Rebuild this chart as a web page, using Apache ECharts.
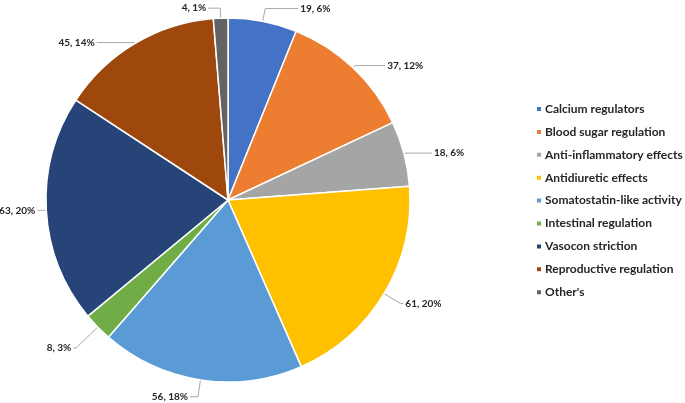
<!DOCTYPE html>
<html><head><meta charset="utf-8">
<script src="https://cdn.jsdelivr.net/npm/echarts@6/dist/echarts.min.js"></script>
<style>html,body{margin:0;padding:0;background:#fff}#c{width:685px;height:403px}</style>
</head><body><div id="c"></div>
<script>
const categories = ["Calcium regulators","Blood sugar regulation","Anti-inflammatory effects","Antidiuretic effects","Somatostatin-like activity","Intestinal regulation","Vasocon striction","Reproductive regulation","Other's"];
const values = [19, 37, 18, 61, 56, 8, 63, 45, 4];
const percentLabels = ["6%","12%","6%","20%","18%","3%","20%","14%","1%"];
const colors = ["#4472C4","#ED7D31","#A5A5A5","#FFC000","#5B9BD5","#70AD47","#264478","#9E480E","#636363"];
const lineLen1 = [13, 3, 2, 19, 17, 30, 4, 1, 10];
const lineLen2 = [33, 30, 26, 3, 8, 3, 5, 38, 12];

const chart = echarts.init(document.getElementById('c'));
chart.setOption({
  animation: false,
  color: colors,
  legend: {
    orient: 'vertical', left: 530, top: 97,
    icon: 'rect', itemWidth: 6, itemHeight: 6, itemGap: 8.9,
    textStyle: {fontFamily: 'Lato', fontWeight: 'bold', fontSize: 12, color: '#262626', lineHeight: 14, padding:[0,0,0,-2]},
    data: categories
  },
  series: [{
    type: 'pie',
    center: [228, 200], radius: 182,
    startAngle: 90, clockwise: true,
    avoidLabelOverlap: false,
    itemStyle: {borderColor: '#fff', borderWidth: 1.5},
    label: {
      show: true, position: 'outside',
      fontFamily: 'Lato', fontWeight: 'bold', fontSize: 10, color: '#262626',
      formatter: p => values[p.dataIndex] + ', ' + percentLabels[p.dataIndex],
      distanceToLabelLine: 2
    },
    labelLine: {show: true, lineStyle: {color: '#A6A6A6', width: 1}, smooth: false},
    emphasis: {disabled: true},
    data: categories.map((c, i) => ({
      name: c, value: values[i],
      labelLine: {length: lineLen1[i], length2: lineLen2[i]}
    }))
  }]
});
</script></body></html>
